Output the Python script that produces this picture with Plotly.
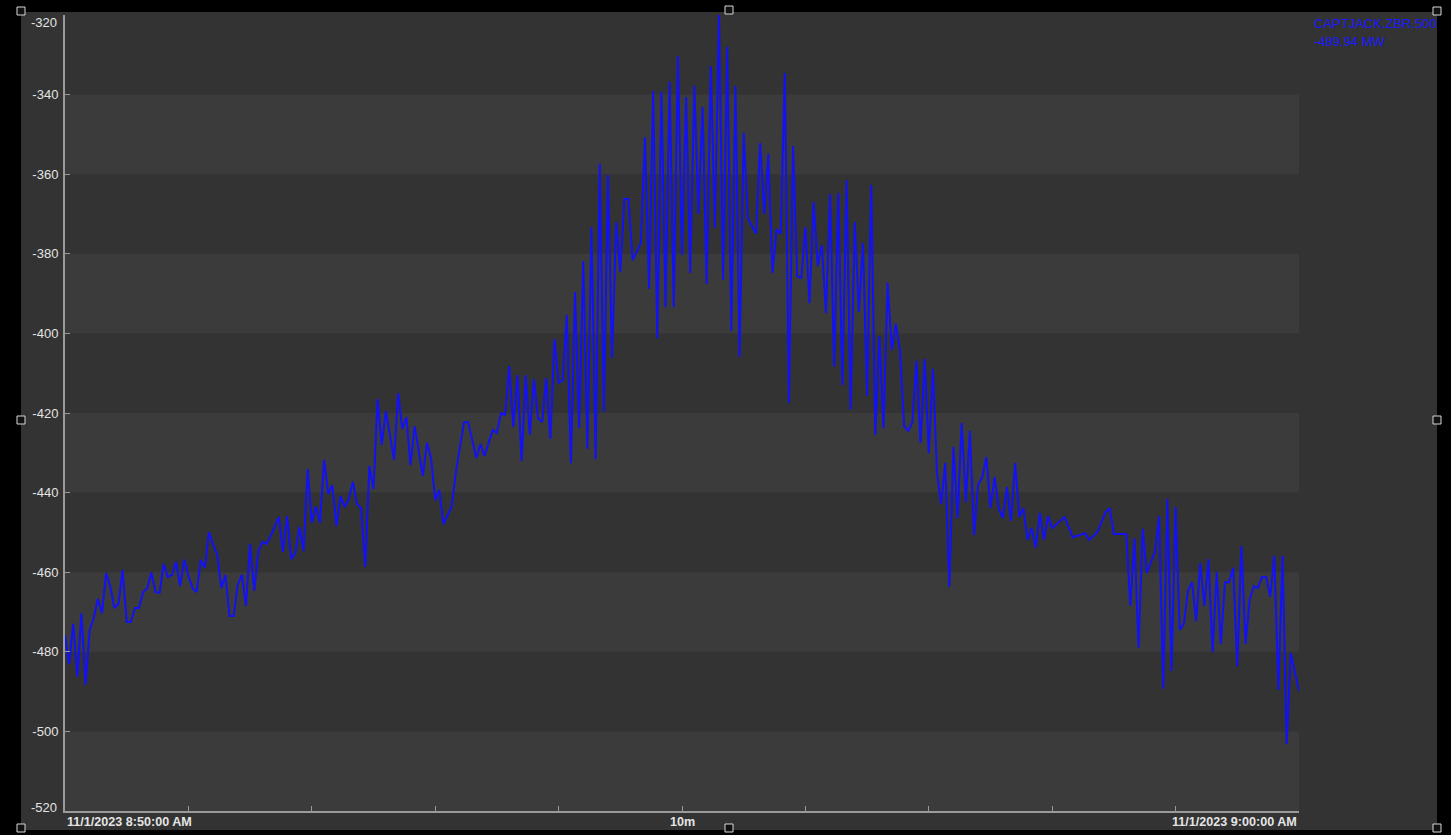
import pandas as pd
import plotly.graph_objects as go

# ---- data -------------------------------------------------------------
series_name = "CAPTJACK.ZBR.500"
unit = "MW"
start_time = "2023-11-01 08:48:45"
sample_ms = 2500

values = [
    -475.8, -483.1, -473.0, -486.3, -470.3, -488.3, -474.5, -471.5, -466.7, -470.3,
    -460.2, -463.5, -469.0, -468.0, -459.4, -472.5, -472.5, -469.0, -469.0, -465.0,
    -464.0, -460.0, -465.0, -465.2, -457.9, -461.2, -460.7, -457.4, -463.5, -456.9,
    -460.8, -464.0, -465.0, -456.9, -458.9, -449.9, -453.0, -455.5, -464.0, -460.7,
    -471.0, -471.0, -463.2, -460.7, -468.5, -452.9, -464.7, -454.7, -452.4, -452.9,
    -450.9, -448.6, -446.1, -454.9, -445.9, -456.7, -455.2, -448.6, -454.7, -434.1,
    -447.6, -443.4, -447.6, -431.8, -440.4, -438.1, -448.4, -440.9, -443.6, -441.6,
    -437.3, -442.9, -443.9, -458.7, -433.3, -439.1, -416.5, -428.0, -419.5, -425.5,
    -431.8, -415.0, -424.0, -421.0, -433.1, -423.3, -429.3, -435.8, -427.5, -431.3,
    -441.9, -439.3, -447.9, -445.9, -443.6, -435.1, -428.5, -422.3, -422.3, -426.8,
    -431.3, -427.8, -430.8, -427.5, -424.3, -425.0, -420.0, -420.5, -408.2, -423.5,
    -410.5, -432.1, -410.5, -425.5, -411.5, -421.3, -422.3, -411.2, -426.5, -401.4,
    -412.5, -411.7, -395.4, -432.6, -389.6, -423.8, -381.8, -429.0, -373.3, -431.6,
    -357.4, -419.7, -360.2, -406.2, -372.0, -384.6, -366.2, -366.2, -381.6, -379.5,
    -377.3, -350.7, -388.8, -339.1, -401.2, -339.3, -393.4, -336.8, -393.4, -330.3,
    -380.3, -340.6, -384.8, -337.8, -370.0, -343.1, -387.6, -332.8, -373.5, -320.0,
    -386.6, -328.0, -399.4, -337.8, -405.9, -349.6, -371.0, -373.0, -375.0, -352.2,
    -370.0, -354.9, -384.8, -373.8, -375.0, -334.6, -417.5, -352.9, -385.6, -386.1,
    -373.3, -392.4, -367.0, -383.1, -377.8, -394.9, -365.0, -408.4, -364.7, -413.0,
    -361.5, -419.2, -372.0, -394.6, -377.3, -415.7, -362.7, -425.5, -400.7, -423.8,
    -387.3, -404.2, -397.6, -404.2, -423.3, -424.5, -422.3, -406.9, -427.5, -406.4,
    -430.1, -408.9, -435.1, -442.9, -432.6, -463.7, -428.5, -446.4, -422.5, -442.4,
    -424.5, -450.7, -438.1, -436.1, -431.1, -443.9, -436.1, -443.9, -446.4, -438.6,
    -447.1, -432.6, -446.1, -443.9, -451.9, -448.9, -453.9, -445.1, -451.9, -445.9,
    -448.9, -448.0, -447.0, -446.1, -448.6, -451.2, -450.9, -450.6, -450.2, -451.9,
    -451.0, -449.9, -447.4, -444.9, -443.9, -450.4, -450.4, -450.4, -450.4, -468.5,
    -451.5, -479.0, -449.1, -460.2, -457.7, -454.9, -445.9, -489.3, -441.6, -484.8,
    -443.6, -474.5, -473.0, -464.7, -462.5, -472.3, -457.7, -468.5, -456.7, -480.1,
    -459.9, -478.0, -462.5, -462.5, -458.9, -483.6, -453.4, -478.0, -467.0, -463.5,
    -464.0, -461.2, -461.2, -466.2, -455.9, -489.6, -455.9, -503.2, -480.3, -485.0,
    -489.94,
]

x_range = ["2023-11-01 08:48:45", "2023-11-01 09:01:15"]
x_ticks = [
    "2023-11-01 08:50:00", "2023-11-01 08:51:15", "2023-11-01 08:52:30",
    "2023-11-01 08:53:45", "2023-11-01 08:55:00", "2023-11-01 08:56:15",
    "2023-11-01 08:57:30", "2023-11-01 08:58:45", "2023-11-01 09:00:00",
]
x_left_label = "11/1/2023 8:50:00 AM"
x_mid_label = "10m"
x_right_label = "11/1/2023 9:00:00 AM"
x_mid_time = "2023-11-01 08:55:00"

y_range = [-520, -320]
y_ticks = list(range(-520, -319, 20))

# ---- styling ------------------------------------------------------------
W, H = 1451, 835
L, R, T, B = 65, 1299, 15, 811      # plot-area edges in pixels
FONT = "Arial, Liberation Sans, sans-serif"
LINE_BLUE = "#1212f2"
TEXT_BLUE = "#1a1aff"
AXIS_GREY = "#9a9a9a"
TEXT_GREY = "#e4e4e4"
PANEL = "#333333"
BAND = "#3b3b3b"


def fx(px):
    return (px - L) / (R - L)


def fy(py):
    return (B - py) / (B - T)


times = pd.date_range(start_time, periods=len(values), freq=f"{sample_ms}ms")

fig = go.Figure()
fig.add_trace(go.Scatter(
    x=times, y=values, mode="lines",
    line=dict(color=LINE_BLUE, width=2),
    hoverinfo="skip", showlegend=False,
))

shapes = []
# dark chart panel inside the black frame
shapes.append(dict(type="rect", xref="paper", yref="paper",
                   x0=fx(21), x1=fx(1437), y0=fy(830), y1=fy(12),
                   fillcolor=PANEL, line=dict(width=0), layer="below"))
# alternating horizontal bands
for lo in y_ticks[::2]:
    shapes.append(dict(type="rect", xref="paper", yref="y",
                       x0=0, x1=1, y0=lo, y1=lo + 20,
                       fillcolor=BAND, line=dict(width=0), layer="below"))
# sizing handles around the panel
for hx, hy in [(21, 11), (729, 10), (1437, 11), (21, 420), (1437, 420),
               (21, 828), (729, 828), (1437, 828)]:
    shapes.append(dict(type="rect", xref="paper", yref="paper",
                       x0=fx(hx - 4), x1=fx(hx + 4), y0=fy(hy + 4), y1=fy(hy - 4),
                       fillcolor="#111111", line=dict(color="#d8d8d8", width=1),
                       layer="above"))

bold_grey = dict(family=FONT, size=12.6, color=TEXT_GREY, weight="bold")
tick_font = dict(family=FONT, size=13, color=TEXT_GREY)

annotations = [
    dict(x=x_range[0], y=0, xref="x", yref="paper", yshift=-11,
         text=x_left_label, showarrow=False, xanchor="left", yanchor="middle",
         font=bold_grey),
    dict(x=x_mid_time, y=0, xref="x", yref="paper", yshift=-11,
         text=x_mid_label, showarrow=False, xanchor="center", yanchor="middle",
         font=bold_grey),
    dict(x=x_range[1], y=0, xref="x", yref="paper", yshift=-11,
         text=x_right_label, showarrow=False, xanchor="right", yanchor="middle",
         font=bold_grey),
    dict(x=fx(1312), y=fy(23), xref="paper", yref="paper",
         text=series_name, showarrow=False, xanchor="left", yanchor="middle",
         font=dict(family=FONT, size=13, color=TEXT_BLUE)),
    dict(x=fx(1312), y=fy(42), xref="paper", yref="paper",
         text=f"{values[-1]:.2f} {unit}", showarrow=False, xanchor="left",
         yanchor="middle", font=dict(family=FONT, size=13, color=TEXT_BLUE)),
    # end labels of the value axis sit just inside the plot edges
    dict(x=0, y=y_range[1], xref="paper", yref="y", xshift=-6, yshift=-7,
         text=str(y_range[1]), showarrow=False, xanchor="right",
         yanchor="middle", font=tick_font),
    dict(x=0, y=y_range[0], xref="paper", yref="y", xshift=-6, yshift=4,
         text=str(y_range[0]), showarrow=False, xanchor="right",
         yanchor="middle", font=tick_font),
]

y_ticktext = ["" if v in y_range else str(v) for v in y_ticks]

fig.update_layout(
    width=W, height=H, autosize=False,
    margin=dict(l=L, r=W - R, t=T, b=H - B, pad=0),
    paper_bgcolor="#000000", plot_bgcolor=PANEL,
    shapes=shapes, annotations=annotations,
    font=dict(family=FONT, color=TEXT_GREY),
    xaxis=dict(
        type="date", range=x_range, tickvals=x_ticks, showticklabels=False,
        ticks="inside", ticklen=5, tickwidth=1, tickcolor=AXIS_GREY,
        showline=True, linecolor=AXIS_GREY, linewidth=2,
        showgrid=False, zeroline=False, automargin=False, fixedrange=True,
    ),
    yaxis=dict(
        range=y_range, tickvals=y_ticks, ticktext=y_ticktext,
        ticks="inside", ticklen=5, tickwidth=1, tickcolor=AXIS_GREY,
        ticklabelstandoff=2,
        showline=True, linecolor=AXIS_GREY, linewidth=2,
        tickfont=tick_font,
        showgrid=False, zeroline=False, automargin=False, fixedrange=True,
    ),
)

fig.write_html("out.html", config={"displayModeBar": False})
